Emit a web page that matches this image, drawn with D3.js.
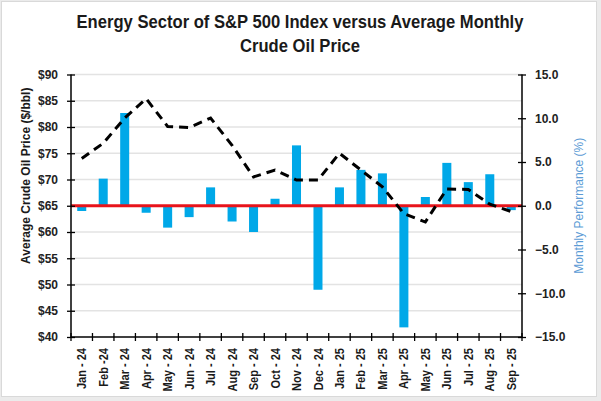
<!DOCTYPE html>
<html>
<head>
<meta charset="utf-8">
<script src="https://cdn.jsdelivr.net/npm/d3@7"></script>
<style>
  body { margin: 0; background: #ebebeb; }
  svg { display: block; }
</style>
</head>
<body>
<div id="chart"></div>
<script>
// months shown on the x axis
const months = ["Jan - 24","Feb -24","Mar - 24","Apr - 24","May - 24","Jun - 24","Jul - 24","Aug - 24","Sep - 24","Oct - 24","Nov - 24","Dec - 24",
  "Jan - 25","Feb - 25","Mar - 25","Apr - 25","May - 25","Jun - 25","Jul - 25","Aug - 25","Sep - 25"];

// monthly performance of the energy sector (%), bars, right axis
const perf = [-0.6, 3.1, 10.6, -0.8, -2.5, -1.3, 2.1, -1.8, -3.0, 0.8, 6.9, -9.6,
  2.1, 4.1, 3.7, -13.9, 1.0, 4.9, 2.7, 3.6, -0.5];

// average crude oil price ($/bbl), dashed line, left axis
const oil = [74.0, 76.9, 81.7, 85.4, 80.1, 79.9, 81.7, 76.5, 70.5, 71.8, 69.9, 69.9,
  75.0, 71.8, 68.6, 63.5, 61.9, 68.2, 68.1, 65.3, 63.9];

const priceTicks = [40, 45, 50, 55, 60, 65, 70, 75, 80, 85, 90];
const perfTicks = [-15, -10, -5, 0, 5, 10, 15];

const W = 601, H = 401;
const pLeft = 71, pRight = 522, pTop = 74.5, pBottom = 337;

const svg = d3.select('#chart').append('svg')
  .attr('width', W).attr('height', H);

svg.append('rect')
  .attr('x', 1.5).attr('y', 1.5).attr('width', 595).attr('height', 395)
  .attr('fill', '#fff').attr('stroke', '#d9d9d9');

const x = d3.scaleBand().domain(months).range([pLeft, pRight]).paddingInner(0).paddingOuter(0);
const yL = d3.scaleLinear().domain([40, 90]).range([pBottom, pTop]);
const yR = d3.scaleLinear().domain([-15, 15]).range([pBottom, pTop]);

// title (squeezed horizontally, no narrow font installed)
const title = svg.append('text')
  .attr('transform', 'translate(300,0) scale(0.95,1)')
  .attr('text-anchor', 'middle')
  .style('font-family', 'Arial, "Liberation Sans", sans-serif')
  .style('font-weight', 'bold').style('font-size', '17.5px').attr('fill', '#1a1a1a');
title.append('tspan').attr('x', 0).attr('y', 28.5).text('Energy Sector of S&P 500 Index versus Average Monthly');
title.append('tspan').attr('x', 0).attr('y', 52).text('Crude Oil Price');

// gridlines
svg.append('g').selectAll('line').data(priceTicks.slice(1)).join('line')
  .attr('x1', pLeft).attr('x2', pRight)
  .attr('y1', d => yL(d)).attr('y2', d => yL(d))
  .attr('stroke', '#e3e3e3').attr('stroke-width', 1.5);

// bars
const bw = x.bandwidth() * 0.42;
svg.append('g').selectAll('rect').data(perf).join('rect')
  .attr('x', (d, i) => x(months[i]) + (x.bandwidth() - bw) / 2)
  .attr('width', bw)
  .attr('y', d => yR(Math.max(0, d)))
  .attr('height', d => Math.abs(yR(d) - yR(0)))
  .attr('fill', '#00a8e8');

// zero / $65 line
svg.append('line')
  .attr('x1', pLeft).attr('x2', pRight)
  .attr('y1', yL(65)).attr('y2', yL(65))
  .attr('stroke', '#e8141b').attr('stroke-width', 3);

// oil price dashed line
const line = d3.line()
  .x((d, i) => x(months[i]) + x.bandwidth() / 2)
  .y(d => yL(d));
svg.append('path').datum(oil)
  .attr('d', line)
  .attr('fill', 'none').attr('stroke', '#000')
  .attr('stroke-width', 3).attr('stroke-dasharray', '9,6');

// left axis
const gL = svg.append('g').attr('transform', `translate(${pLeft},0)`)
  .call(d3.axisLeft(yL).tickValues(priceTicks).tickFormat(d => '$' + d).tickSize(4).tickPadding(9));
gL.selectAll('.tick line').attr('x1', -4).attr('x2', 4);

// right axis
const gR = svg.append('g').attr('transform', `translate(${pRight},0)`)
  .call(d3.axisRight(yR).tickValues(perfTicks).tickFormat(d3.format('.1f')).tickSize(4).tickPadding(9));
gR.selectAll('.tick line').attr('x1', -4).attr('x2', 4);

[gL, gR].forEach(g => {
  g.select('.domain').attr('stroke', '#000').attr('stroke-width', 1.5).attr('d', `M0,${pTop}V${pBottom}`);
  g.selectAll('.tick line').attr('stroke', '#000').attr('stroke-width', 1.3);
  g.selectAll('.tick text').style('font-family', 'Arial, "Liberation Sans", sans-serif')
    .style('font-weight', 'bold').style('font-size', '12px').attr('fill', '#222');
});

// bottom axis
const gB = svg.append('g').attr('transform', `translate(0,${pBottom})`);
gB.append('line').attr('x1', pLeft).attr('x2', pRight).attr('stroke', '#000').attr('stroke-width', 1.5);
gB.selectAll('.tk').data(months.map(m => x(m)).concat([pRight])).join('line')
  .attr('class', 'tk')
  .attr('x1', d => d).attr('x2', d => d).attr('y1', -4).attr('y2', 4)
  .attr('stroke', '#000').attr('stroke-width', 1.3);
gB.selectAll('.lbl').data(months).join('text')
  .attr('class', 'lbl')
  .attr('transform', d => `translate(${x(d) + x.bandwidth() / 2},11) rotate(-90) scale(0.85,1)`)
  .attr('text-anchor', 'end').attr('dy', '0.35em')
  .style('font-family', 'Arial, "Liberation Sans", sans-serif')
  .style('font-weight', 'bold').style('font-size', '13px').attr('fill', '#1a1a1a')
  .text(d => d);

// axis titles
svg.append('text')
  .attr('transform', `translate(30,${(pTop + pBottom) / 2 - 30}) rotate(-90)`)
  .attr('text-anchor', 'middle')
  .style('font-family', 'Arial, "Liberation Sans", sans-serif')
  .style('font-weight', 'bold').style('font-size', '12px').attr('fill', '#1a1a1a')
  .text('Average Crude Oil Price ($/bbl)');

svg.append('text')
  .attr('transform', `translate(583,${yR(0)}) rotate(-90)`)
  .attr('text-anchor', 'middle')
  .style('font-family', 'Arial, "Liberation Sans", sans-serif')
  .style('font-size', '12px').attr('fill', '#5b9bd5')
  .text('Monthly Performance (%)');
</script>
</body>
</html>
